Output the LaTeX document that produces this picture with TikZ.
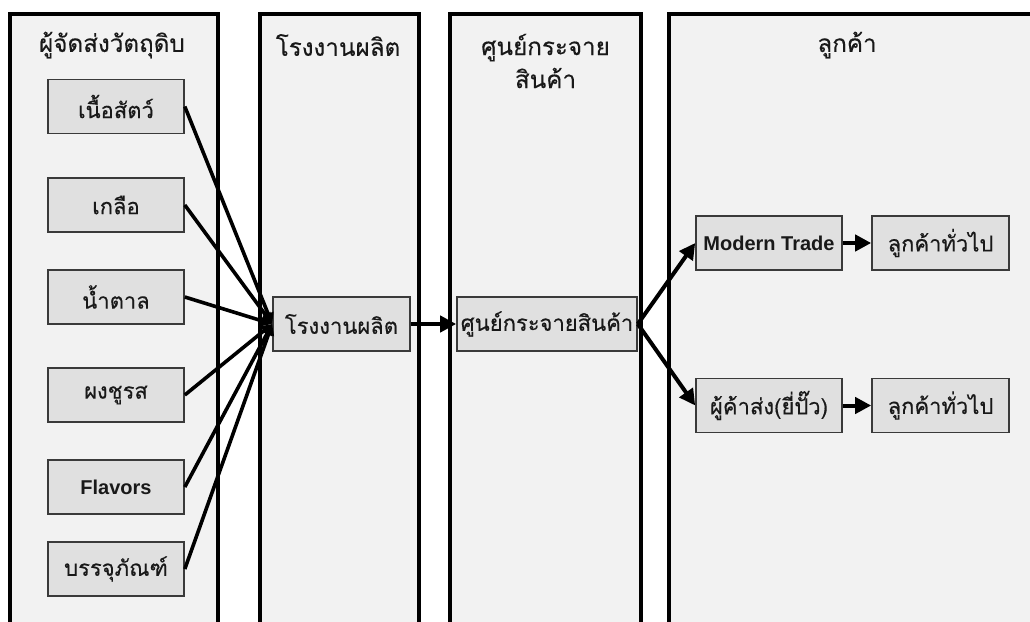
\documentclass[tikz,border=0pt]{standalone}
\usepackage{fontspec}
\setmainfont{Liberation Sans}
\newfontfamily\thaifont[Script=Thai,FakeBold=0.3]{Loma}
\usetikzlibrary{arrows.meta}
\definecolor{lanefill}{HTML}{F2F2F2}
\definecolor{boxfill}{HTML}{E0E0E0}
\definecolor{boxline}{HTML}{3A3A3A}
\tikzset{
  lane/.style={fill=lanefill,draw=black,line width=4.5pt},
  lanetitle/.style={font=\thaifont\fontsize{24.2}{33}\selectfont,align=center,text=black!90},
  item/.style={draw=boxline,line width=1.6pt,fill=boxfill,minimum height=54pt,inner sep=0pt,
     font=\thaifont\fontsize{22}{28}\selectfont,text=black!90},
  itemA/.style={item,minimum width=136pt},
  itemB/.style={item,minimum width=137pt},
  itemC/.style={item,minimum width=180pt},
  itemD/.style={item,minimum width=146pt},
  latin/.style={font=\bfseries\fontsize{20}{24}\selectfont},
  flow/.style={line width=4pt,-{Triangle[length=16pt,width=16pt]}},
  feed/.style={line width=3.6pt,-{Triangle[length=11pt,width=11pt]}},
}
\begin{document}
\begin{tikzpicture}[x=1pt,y=-1pt]
\useasboundingbox (0,0) rectangle (1030,621);
\clip (0,0) rectangle (1030,621);
% lanes
\draw[lane] (10,14) rectangle (218,660);
\draw[lane] (260,14) rectangle (419,660);
\draw[lane] (450,14) rectangle (641,660);
\draw[lane] (669,14) rectangle (1060,660);
% titles
\node[lanetitle] (t1) at (112,45) {ผู้จัดส่งวัตถุดิบ};
\node[lanetitle] (t2) at (338,45) {โรงงานผลิต};
\node[lanetitle] (t3) at (545.5,61) {ศูนย์กระจาย\\สินค้า};
\node[lanetitle] (t4) at (847,45) {ลูกค้า};
% suppliers
\node[itemA] (s1) at (116,106.5) {เนื้อสัตว์};
\node[itemA] (s2) at (116,205) {เกลือ};
\node[itemA] (s3) at (116,297) {น้ำตาล};
\node[itemA] (s4) at (116,395) {ผงชูรส};
\node[itemA,latin] (s5) at (116,487) {Flavors};
\node[itemA] (s6) at (116,569) {บรรจุภัณฑ์};
% factory and dc
\node[itemB] (f) at (341.5,324) {โรงงานผลิต};
\node[itemC] (d) at (547,324) {ศูนย์กระจายสินค้า};
% customers
\node[itemD,latin] (m) at (769,243) {Modern Trade};
\node[itemB] (c1) at (940.5,243) {ลูกค้าทั่วไป};
\node[itemD] (w) at (769,405.5) {ผู้ค้าส่ง(ยี่ปั๊ว)};
\node[itemB] (c2) at (940.5,405.5) {ลูกค้าทั่วไป};
% connectors
\foreach \s in {s1,s2,s3,s4,s5,s6}{\draw[feed] (\s.east) -- (f.west);}
\draw[flow] (f.east) -- (d.west);
\draw[flow] (d.east) -- (m.west);
\draw[flow] (d.east) -- (w.west);
\draw[flow] (m.east) -- (c1.west);
\draw[flow] (w.east) -- (c2.west);
\end{tikzpicture}
\end{document}
